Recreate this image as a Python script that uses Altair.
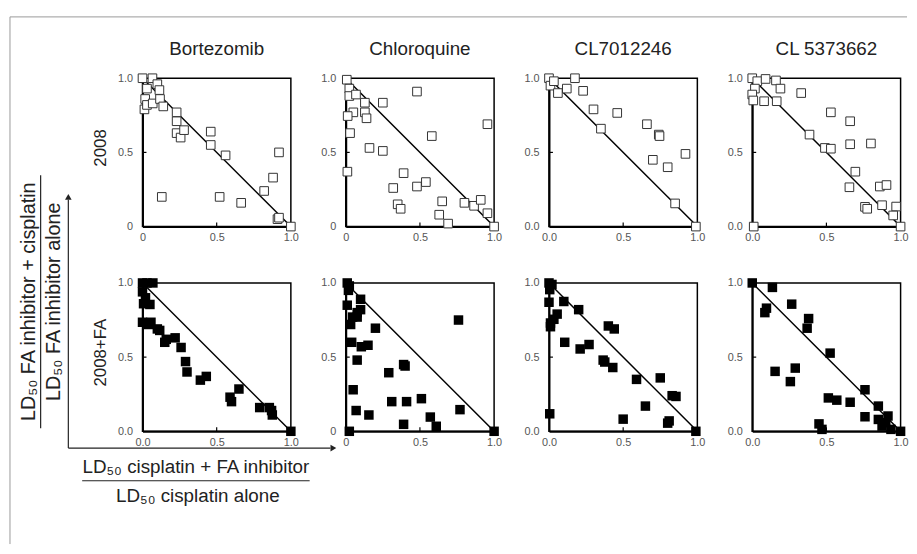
import altair as alt
import pandas as pd

FONT = "Liberation Sans"

drugs = ["Bortezomib", "Chloroquine", "CL7012246", "CL 5373662"]
conditions = ["2008", "2008+FA"]

# ---- 2008 (open squares) ----
bort_2008_x = [0, 0.067, 0.03, 0.10, 0.114, 0.018, 0.013, 0.03, 0.069, 0.118, 0.14, 0.23, 0.23, 0.23,
               0.257, 0.28, 0.46, 0.46, 0.56, 0.13, 0.52, 0.665, 0.82, 0.88, 0.92, 0.91, 0.92, 1.0]
bort_2008_y = [1.0, 1.0, 0.93, 0.96, 0.92, 0.86, 0.79, 0.82, 0.83, 0.86, 0.81, 0.77, 0.71, 0.63,
               0.60, 0.65, 0.64, 0.55, 0.48, 0.20, 0.20, 0.16, 0.24, 0.33, 0.50, 0.05, 0.06, 0.0]

chlor_2008_x = [0.007, 0.024, 0.024, 0.069, 0.129, 0.129, 0.051, 0.013, 0.14, 0.25, 0.48, 0.029, 0.16,
                0.25, 0.58, 0.955, 0.011, 0.39, 0.32, 0.48, 0.54, 0.35, 0.37, 0.65, 0.63, 0.69, 0.80,
                0.865, 0.91, 0.955, 1.0]
chlor_2008_y = [0.99, 0.93, 0.88, 0.89, 0.835, 0.77, 0.77, 0.745, 0.73, 0.835, 0.91, 0.63, 0.53,
                0.51, 0.61, 0.69, 0.37, 0.36, 0.26, 0.27, 0.30, 0.15, 0.12, 0.17, 0.08, 0.02, 0.16,
                0.14, 0.18, 0.09, 0.0]

cl70_2008_x = [0, 0.01, 0.033, 0.06, 0.12, 0.175, 0.23, 0.30, 0.35, 0.46, 0.66, 0.74, 0.745, 0.92,
               0.70, 0.80, 0.85, 0.99]
cl70_2008_y = [1.0, 0.95, 0.98, 0.90, 0.93, 1.0, 0.915, 0.79, 0.66, 0.766, 0.69, 0.62, 0.61, 0.49,
               0.45, 0.40, 0.156, 0.0]

cl53_2008_x = [0, 0.034, 0.09, 0.16, 0.018, 0.19, 0.0, 0.007, 0.08, 0.165, 0.33, 0.53, 0.66, 0.386,
               0.49, 0.53, 0.66, 0.80, 0.695, 0.655, 0.86, 0.905, 0.76, 0.775, 0.875, 0.97, 0.95,
               0.01, 1.0]
cl53_2008_y = [1.0, 0.98, 0.995, 0.985, 0.93, 0.93, 0.89, 0.85, 0.845, 0.845, 0.90, 0.77, 0.71, 0.62,
               0.53, 0.525, 0.555, 0.56, 0.37, 0.265, 0.27, 0.28, 0.133, 0.12, 0.144, 0.135, 0.075,
               0.0, 0.0]

# ---- 2008+FA (filled squares) ----
bort_fa_x = [0, 0.03, 0.07, 0, 0.02, 0.007, 0.05, 0, 0.04, 0.057, 0.10, 0.116, 0.15, 0.16, 0.22,
             0.26, 0.29, 0.30, 0.39, 0.43, 0.59, 0.60, 0.65, 0.79, 0.855, 0.87, 0.875, 1.0]
bort_fa_y = [1.0, 1.0, 1.0, 0.94, 0.90, 0.86, 0.855, 0.735, 0.72, 0.735, 0.69, 0.68, 0.60, 0.62, 0.63,
             0.565, 0.47, 0.40, 0.345, 0.37, 0.23, 0.20, 0.285, 0.16, 0.16, 0.14, 0.11, 0.0]

chlor_fa_x = [0.01, 0.024, 0.018, 0.01, 0.1, 0.1, 0.077, 0.046, 0.033, 0.077, 0.2, 0.04, 0.105, 0.15,
              0.077, 0.29, 0.39, 0.40, 0.05, 0.07, 0.156, 0.31, 0.41, 0.51, 0.39, 0.57, 0.61, 0.76,
              0.77, 0.024, 1.0]
chlor_fa_y = [1.0, 0.98, 0.95, 0.85, 0.89, 0.82, 0.80, 0.77, 0.72, 0.77, 0.695, 0.60, 0.57, 0.58,
              0.48, 0.395, 0.45, 0.44, 0.28, 0.14, 0.11, 0.20, 0.20, 0.22, 0.047, 0.096, 0.034, 0.75,
              0.146, 0.0, 0.0]

cl70_fa_x = [0, 0.02, 0.005, 0, 0.1, 0.055, 0.033, 0.01, 0.01, 0.2, 0.106, 0.21, 0.27, 0.40, 0.44,
             0.365, 0.376, 0.43, 0.59, 0.75, 0.83, 0.856, 0.65, 0.50, 0.80, 0.81, 0.005, 0.99]
cl70_fa_y = [1.0, 0.99, 0.955, 0.87, 0.875, 0.79, 0.755, 0.73, 0.705, 0.82, 0.60, 0.555, 0.585, 0.71,
             0.69, 0.48, 0.467, 0.43, 0.35, 0.36, 0.24, 0.235, 0.17, 0.082, 0.055, 0.07, 0.118, 0.0]

cl53_fa_x = [0, 0.136, 0.085, 0.096, 0.266, 0.38, 0.37, 0.525, 0.154, 0.29, 0.257, 0.76, 0.513, 0.57,
             0.66, 0.76, 0.85, 0.85, 0.915, 0.9, 0.935, 0.45, 0.47, 1.0, 0.875]
cl53_fa_y = [1.0, 0.97, 0.80, 0.83, 0.857, 0.76, 0.695, 0.527, 0.404, 0.426, 0.335, 0.28, 0.225, 0.21,
             0.196, 0.098, 0.17, 0.08, 0.103, 0.058, 0.013, 0.05, 0.013, 0.0, 0.035]

# additivity line and axis ticks
diag_x = [0, 1]
diag_y = [1, 0]
tick_values = [0, 0.5, 1]
inner_ticks = [0.5]

# zero-label style per panel: "0" or "0.0"
zero_style = ["0", "0", "0.0", "0.0", "0.0", "0", "0.0", "0.0"]

y_label_top = "LD\u2085\u2080 FA inhibitor + cisplatin"
y_label_bot = "LD\u2085\u2080 FA inhibitor alone"
x_label_top = "LD\u2085\u2080 cisplatin + FA inhibitor"
x_label_bot = "LD\u2085\u2080 cisplatin alone"

W = 150
H = 150
ROW_GAP = 57
COL_GAP = 55.5
# bottom-left panel origin in page pixels (decorations are drawn from it)
OX, OY = 142, 74 + H + ROW_GAP


def rel_x(px):
    return px - OX


def rel_y(py):
    return py - OY


def deco_layers():
    one = pd.DataFrame({"k": [0]})
    grey = "#9a9a9a"
    ink = "#222"
    fs = 19
    fs_rot = 20
    layers = []
    # page frame (top and left)
    layers.append(alt.Chart(one).mark_rule(color=grey, strokeWidth=1).encode(
        x=alt.value(rel_x(8)), x2=alt.value(rel_x(915)), y=alt.value(rel_y(12))))
    layers.append(alt.Chart(one).mark_rule(color=grey, strokeWidth=1).encode(
        x=alt.value(rel_x(8)), y=alt.value(rel_y(12)), y2=alt.value(rel_y(545))))
    # arrows
    ax, ay = 67, 448
    layers.append(alt.Chart(one).mark_rule(color=ink, strokeWidth=1.2).encode(
        x=alt.value(rel_x(ax)), y=alt.value(rel_y(ay)), y2=alt.value(rel_y(197))))
    layers.append(alt.Chart(one).mark_rule(color=ink, strokeWidth=1.2).encode(
        x=alt.value(rel_x(ax)), x2=alt.value(rel_x(332)), y=alt.value(rel_y(ay))))
    layers.append(alt.Chart(one).mark_point(shape="triangle-up", filled=True, color=ink,
                                            size=45, opacity=1).encode(
        x=alt.value(rel_x(ax)), y=alt.value(rel_y(194))))
    layers.append(alt.Chart(one).mark_point(shape="triangle-right", filled=True, color=ink,
                                            size=45, opacity=1).encode(
        x=alt.value(rel_x(335)), y=alt.value(rel_y(ay))))
    # y fraction
    cy = 300
    layers.append(alt.Chart(pd.DataFrame({"t": [y_label_top]})).mark_text(
        angle=270, font=FONT, fontSize=fs_rot, color=ink, align="center", baseline="middle").encode(
        text="t:N", x=alt.value(rel_x(27)), y=alt.value(rel_y(cy))))
    layers.append(alt.Chart(one).mark_rule(color=ink, strokeWidth=1.2).encode(
        x=alt.value(rel_x(39)), y=alt.value(rel_y(cy - 128)), y2=alt.value(rel_y(cy + 128))))
    layers.append(alt.Chart(pd.DataFrame({"t": [y_label_bot]})).mark_text(
        angle=270, font=FONT, fontSize=fs_rot, color=ink, align="center", baseline="middle").encode(
        text="t:N", x=alt.value(rel_x(53)), y=alt.value(rel_y(cy))))
    # x fraction
    cx = 196
    layers.append(alt.Chart(pd.DataFrame({"t": [x_label_top]})).mark_text(
        font=FONT, fontSize=fs, color=ink, align="center", baseline="middle").encode(
        text="t:N", x=alt.value(rel_x(cx)), y=alt.value(rel_y(467))))
    layers.append(alt.Chart(one).mark_rule(color=ink, strokeWidth=1.2).encode(
        x=alt.value(rel_x(cx - 115)), x2=alt.value(rel_x(cx + 115)), y=alt.value(rel_y(481))))
    layers.append(alt.Chart(pd.DataFrame({"t": [x_label_bot]})).mark_text(
        font=FONT, fontSize=fs, color=ink, align="center", baseline="middle").encode(
        text="t:N", x=alt.value(rel_x(cx + 2)), y=alt.value(rel_y(496))))
    return layers


def panel(idx, xs, ys, filled, col_title=None, row_title=None):
    zs = zero_style[idx]
    if zs == "0":
        expr = "datum.value == 0 ? '0' : format(datum.value, '.1f')"
    else:
        expr = "format(datum.value, '.1f')"
    sc = alt.Scale(domain=[0, 1], nice=False, zero=False)
    xaxis = alt.Axis(values=tick_values, labelExpr=expr, ticks=False, labelPadding=5, title=None)
    if row_title is not None:
        yaxis = alt.Axis(values=tick_values, labelExpr=expr, ticks=False, labelPadding=10,
                         title=row_title, titleAngle=270, titleX=-42, titleY=70,
                         titleAlign="center", titleBaseline="middle", titleFontSize=17,
                         titleFont=FONT, titleFontWeight="normal", titleColor="#222")
    else:
        yaxis = alt.Axis(values=tick_values, labelExpr=expr, ticks=False, labelPadding=10, title=None)

    df = pd.DataFrame({"x": xs, "y": ys})
    diag = alt.Chart(pd.DataFrame({"x": diag_x, "y": diag_y})).mark_line(
        color="black", strokeWidth=1.5).encode(
        x=alt.X("x:Q", scale=sc, axis=xaxis), y=alt.Y("y:Q", scale=sc, axis=yaxis))
    tdf = pd.DataFrame({"x": inner_ticks, "y": inner_ticks})
    xt = alt.Chart(tdf).mark_rule(color="black", strokeWidth=1.2).encode(
        x=alt.X("x:Q", scale=sc, axis=xaxis), y=alt.value(H), y2=alt.value(H - 4))
    yt = alt.Chart(tdf).mark_rule(color="black", strokeWidth=1.2).encode(
        y=alt.Y("y:Q", scale=sc, axis=yaxis), x=alt.value(0), x2=alt.value(4))
    if filled:
        mk = alt.Chart(df).mark_square(size=92, color="black", opacity=1)
    else:
        mk = alt.Chart(df).mark_square(size=76, fill="white", stroke="#333",
                                       strokeWidth=1, opacity=1)
    pts = mk.encode(x=alt.X("x:Q", scale=sc, axis=xaxis), y=alt.Y("y:Q", scale=sc, axis=yaxis))
    layers = [diag, xt, yt, pts]
    if idx == 4:
        layers += deco_layers()
    ch = alt.layer(*layers).properties(width=W, height=H)
    if col_title is not None:
        ch = ch.properties(title=alt.Title(col_title, fontSize=19, font=FONT, fontWeight="normal",
                                           color="#222", anchor="middle", offset=13, frame="group"))
    return ch


data_top = [(bort_2008_x, bort_2008_y), (chlor_2008_x, chlor_2008_y),
            (cl70_2008_x, cl70_2008_y), (cl53_2008_x, cl53_2008_y)]
data_bot = [(bort_fa_x, bort_fa_y), (chlor_fa_x, chlor_fa_y),
            (cl70_fa_x, cl70_fa_y), (cl53_fa_x, cl53_fa_y)]

top = [panel(i, xs, ys, False, col_title=drugs[i], row_title=conditions[0] if i == 0 else None)
       for i, (xs, ys) in enumerate(data_top)]
bot = [panel(4 + i, xs, ys, True, row_title=conditions[1] if i == 0 else None)
       for i, (xs, ys) in enumerate(data_bot)]

chart = alt.concat(*top, *bot, columns=4, spacing={"row": ROW_GAP, "column": COL_GAP},
                   bounds="flush").properties(
    padding={"left": 0, "top": 4, "right": 0, "bottom": 0},
    background="white",
).configure_view(
    stroke="black", strokeWidth=1.5
).configure_axis(
    domainColor="black", domainWidth=2, grid=False, labelFlush=False,
    labelColor="#555", labelFontSize=11, labelFont=FONT
)

chart.save("out.html", embed_options={"renderer": "svg", "actions": False})
